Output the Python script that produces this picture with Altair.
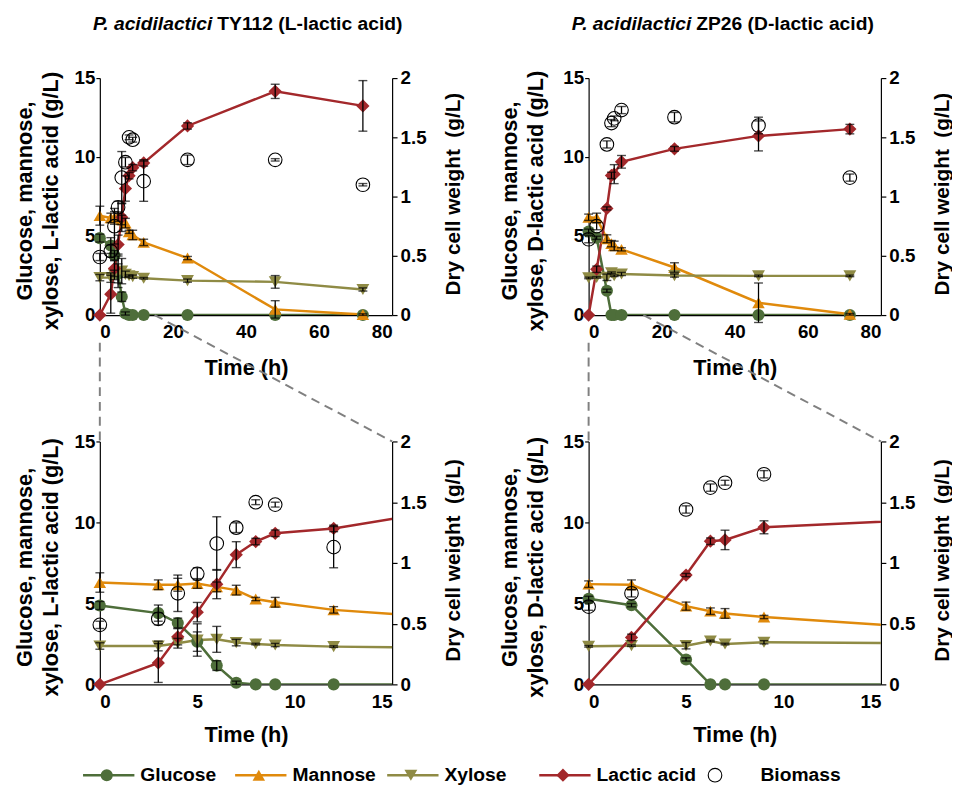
import altair as alt
import pandas as pd

FONT = "Liberation Sans"

# ---------------- data ----------------
series_names = ["Glucose", "Mannose", "Xylose", "Lactic acid"]
series_colors = ["#4E6E3A", "#E08A0C", "#8F8B45", "#A3282B"]
series_shapes = ["circle", "triangle-up", "triangle-down", "diamond"]
series_sizes = [150, 180, 180, 170]

# P. acidilactici TY112 (L-lactic acid)
ty_time = [0, 3, 4, 5, 6, 7, 8, 9, 12, 24, 48, 72]
ty_glucose = [4.87, 4.40, 3.79, 2.64, 1.16, 0.10, 0, 0, 0, 0, 0, 0]
ty_glucose_err = [0.25, 0.5, 0.3, 0.6, 0.3, 0.1, 0, 0, 0, 0, 0, 0]
ty_mannose = [6.29, 6.15, 6.15, 6.23, 6.02, 5.82, 5.27, 5.07, 4.60, 3.61, 0.36, 0.03]
ty_mannose_err = [0.6, 0.3, 0.4, 0.3, 0.3, 0.3, 0.1, 0.3, 0.2, 0.1, 0.55, 0.05]
ty_xylose = [2.37, 2.37, 2.54, 2.74, 2.78, 2.58, 2.49, 2.43, 2.33, 2.18, 2.10, 1.62]
ty_xylose_err = [0.2, 0.3, 0.3, 1.0, 0.8, 0.2, 0.05, 0.1, 0.05, 0.1, 0.4, 0.1]
ty_lactic = [0, 1.32, 2.94, 4.46, 6.19, 8.01, 8.82, 9.33, 9.63, 11.97, 14.16, 13.24]
ty_lactic_err = [0, 1.2, 0.5, 0.6, 0.9, 0.8, 0.2, 0.2, 0.2, 0.2, 0.45, 1.6]
ty_biomass = [0.49, 0.54, 0.75, 0.91, 1.16, 1.29, 1.50, 1.48, 1.13, 1.31, 1.31, 1.10]
ty_biomass_err = [0.03, 0.05, 0.15, 0.05, 0.22, 0.04, 0.02, 0.02, 0.17, 0.04, 0.01, 0.01]

# P. acidilactici ZP26 (D-lactic acid)
zp_time = [0, 2.2, 5, 6.25, 7, 9, 23.5, 46.5, 71.5]
zp_glucose = [5.29, 4.89, 1.54, 0, 0, 0, 0, 0, 0]
zp_glucose_err = [0.15, 0.1, 0.1, 0, 0, 0, 0, 0, 0]
zp_mannose = [6.19, 6.15, 4.83, 4.52, 4.38, 4.16, 3.01, 0.78, 0.05]
zp_mannose_err = [0.2, 0.3, 0.25, 0.2, 0.3, 0.1, 0.3, 1.25, 0.05]
zp_xylose = [2.35, 2.39, 2.39, 2.68, 2.49, 2.60, 2.50, 2.48, 2.48]
zp_xylose_err = [0.05, 0.05, 0.2, 0.05, 0.05, 0.1, 0.1, 0.05, 0.05]
zp_lactic = [0, 2.90, 6.75, 8.84, 8.92, 9.70, 10.52, 11.34, 11.77]
zp_lactic_err = [0, 0.2, 0.1, 0.2, 0.6, 0.4, 0.15, 0.95, 0.3]
zp_biomass = [0.64, 0.75, 1.44, 1.62, 1.66, 1.73, 1.67, 1.60, 1.16]
zp_biomass_err = [0.03, 0.03, 0.03, 0.03, 0.02, 0.03, 0.04, 0.07, 0.03]

legend_names = series_names + ["Biomass"]

# ---------------- layout constants ----------------
W = 296
H_TOP = 240
H_BOT = 246
HSPACE = 199
VSPACE = 128
LEGEND_Y = 92          # legend centre below the bottom panels' x axis
TOP_XMAX = 80
BOT_XMAX = 15
TITLE_FS = 19.5
BIO_SIZE = 190


def long_df(time, vals, errs):
    rows = []
    for name, v, e in zip(series_names, vals, errs):
        for t, vv, ee in zip(time, v, e):
            rows.append({"t": t, "series": name, "value": vv, "err": ee,
                         "lo": vv - ee, "hi": vv + ee})
    return pd.DataFrame(rows)


def bio_df(time, vals, errs):
    return pd.DataFrame({"t": time, "value": vals, "err": errs,
                         "lo": [v - e for v, e in zip(vals, errs)],
                         "hi": [v + e for v, e in zip(vals, errs)]})


ty_sub = long_df(ty_time, [ty_glucose, ty_mannose, ty_xylose, ty_lactic],
                 [ty_glucose_err, ty_mannose_err, ty_xylose_err, ty_lactic_err])
zp_sub = long_df(zp_time, [zp_glucose, zp_mannose, zp_xylose, zp_lactic],
                 [zp_glucose_err, zp_mannose_err, zp_xylose_err, zp_lactic_err])
ty_bio = bio_df(ty_time, ty_biomass, ty_biomass_err)
zp_bio = bio_df(zp_time, zp_biomass, zp_biomass_err)

color_scale = alt.Scale(domain=series_names, range=series_colors)
shape_scale = alt.Scale(domain=series_names, range=series_shapes)
size_scale = alt.Scale(domain=series_names, range=series_sizes)


def zoom_guides():
    # connectors from the top panel's 0-15 h window to the bottom panel frame,
    # expressed in the bottom panel's data units
    y_per_px = 15.0 / H_BOT
    x_top_15 = BOT_XMAX * BOT_XMAX / TOP_XMAX
    return pd.DataFrame({
        "x1": [0, x_top_15],
        "y1": [15 + (VSPACE - 28) * y_per_px, 15 + VSPACE * y_per_px],
        "x2": [0, BOT_XMAX],
        "y2": [15, 15],
    })


def make_legend():
    leg_df = pd.DataFrame({"name": legend_names})
    LX = alt.X("name:N", scale=alt.Scale(type="point", domain=legend_names,
                                         range=[7, 623], padding=0), axis=None)
    yv = alt.value(H_BOT + LEGEND_Y)
    leg_col = alt.Color("name:N", scale=color_scale, legend=None)
    not_bio = "datum.name != 'Biomass'"
    is_bio = "datum.name == 'Biomass'"
    leg_lines = alt.Chart(leg_df).transform_filter(not_bio).mark_tick(
        orient="horizontal", size=52, thickness=2.5, xOffset=2, opacity=1).encode(
        x=LX, y=yv, color=leg_col)
    leg_pts = alt.Chart(leg_df).transform_filter(not_bio).mark_point(
        filled=True, opacity=1).encode(
        x=LX, y=yv, color=leg_col,
        shape=alt.Shape("name:N", scale=shape_scale, legend=None),
        size=alt.Size("name:N", scale=size_scale, legend=None))
    leg_bio = alt.Chart(leg_df).transform_filter(is_bio).mark_point(
        filled=False, color="black", size=BIO_SIZE, strokeWidth=1.1, opacity=1).encode(
        x=LX, y=yv)
    leg_txt = alt.Chart(leg_df).transform_filter(not_bio).mark_text(
        font=FONT, fontSize=19.5, fontWeight="bold", align="left", baseline="middle",
        dx=34, color="black").encode(x=LX, y=yv, text="name:N")
    leg_txt_b = alt.Chart(leg_df).transform_filter(is_bio).mark_text(
        font=FONT, fontSize=19.5, fontWeight="bold", align="left", baseline="middle",
        dx=46, color="black").encode(x=LX, y=yv, text="name:N")
    return alt.layer(leg_lines, leg_pts, leg_bio, leg_txt, leg_txt_b)


def panel(sub, bio, x_max, x_ticks, h, left_title, lx, rx, xt_y,
          title_parts=None, junction=0, guides=False, legend=False):
    xs = alt.Scale(domain=[0, x_max], nice=False)
    ys = alt.Scale(domain=[0, 15], nice=False)
    rs = alt.Scale(domain=[0, 2], nice=False)
    x_axis = alt.Axis(values=x_ticks, title="Time (h)", ticks=False,
                      labelPadding=8, titleY=xt_y, titleBaseline="middle",
                      grid=False)
    ly_axis = alt.Axis(values=[0, 5, 10, 15], title=left_title, titleX=lx,
                       titleY=h / 2 + 4, titleAngle=270, titleAlign="center",
                       titleBaseline="middle", titleLineHeight=26,
                       tickSize=4, labelPadding=1, grid=False)
    ry_axis = alt.Axis(orient="right", values=[0, 0.5, 1, 1.5, 2], format="~g",
                       title="Dry cell weight\u00a0 (g/L)", titleX=rx,
                       titleY=h / 2 - 3, titleAngle=270, titleAlign="center",
                       titleBaseline="middle", titleFontSize=21,
                       tickSize=5, labelPadding=3, grid=False)

    def X(f):
        return alt.X(f, type="quantitative", scale=xs, axis=x_axis)

    def Y(f):
        return alt.Y(f, type="quantitative", scale=ys, axis=ly_axis)

    def RY(f):
        return alt.Y(f, type="quantitative", scale=rs, axis=ry_axis)

    col = alt.Color("series:N", scale=color_scale, legend=None)
    in_range = f"datum.t <= {x_max}"
    with_err = f"datum.t <= {x_max} && datum.err > 0"

    lines = alt.Chart(sub).mark_line(strokeWidth=2.5, clip=True).encode(
        x=X("t"), y=Y("value"), color=col)
    pts = alt.Chart(sub).transform_filter(in_range).mark_point(
        filled=True, opacity=1, strokeWidth=0.8).encode(
        x=X("t"), y=Y("value"), color=col,
        shape=alt.Shape("series:N", scale=shape_scale, legend=None),
        size=alt.Size("series:N", scale=size_scale, legend=None))
    eb = alt.Chart(sub).transform_filter(with_err)
    e_rule = eb.mark_rule(color="black", strokeWidth=1.3).encode(
        x=X("t"), y=Y("lo"), y2="hi:Q")
    e_lo = eb.mark_tick(color="black", orient="horizontal", size=9,
                        thickness=1.4).encode(x=X("t"), y=Y("lo"))
    e_hi = eb.mark_tick(color="black", orient="horizontal", size=9,
                        thickness=1.4).encode(x=X("t"), y=Y("hi"))
    left_layers = [lines, pts, e_rule, e_lo, e_hi]

    if title_parts is not None:
        it, rest = title_parts
        t1 = alt.Chart(pd.DataFrame({"s": [it]})).mark_text(
            font=FONT, fontSize=TITLE_FS, fontWeight="bold", fontStyle="italic",
            align="right", baseline="middle", color="black").encode(
            text="s:N", x=alt.value(junction), y=alt.value(-55))
        t2 = alt.Chart(pd.DataFrame({"s": [rest]})).mark_text(
            font=FONT, fontSize=TITLE_FS, fontWeight="bold",
            align="left", baseline="middle", color="black").encode(
            text="s:N", x=alt.value(junction + 5), y=alt.value(-55))
        left_layers += [t1, t2]

    if guides:
        g = alt.Chart(zoom_guides()).mark_rule(
            color="#808080", strokeWidth=2, strokeDash=[9, 6]).encode(
            x=X("x1"), y=Y("y1"), x2="x2:Q", y2="y2:Q")
        left_layers.append(g)

    bb = alt.Chart(bio).transform_filter(in_range)
    b_pts = bb.mark_point(filled=False, color="black", size=BIO_SIZE,
                          strokeWidth=1.1, opacity=1).encode(x=X("t"), y=RY("value"))
    bbe = alt.Chart(bio).transform_filter(with_err)
    b_rule = bbe.mark_rule(color="black", strokeWidth=1.3).encode(
        x=X("t"), y=RY("lo"), y2="hi:Q")
    b_lo = bbe.mark_tick(color="black", orient="horizontal", size=9,
                         thickness=1.4).encode(x=X("t"), y=RY("lo"))
    b_hi = bbe.mark_tick(color="black", orient="horizontal", size=9,
                         thickness=1.4).encode(x=X("t"), y=RY("hi"))

    left = alt.layer(*left_layers)
    right = alt.layer(b_pts, b_rule, b_lo, b_hi)
    core = alt.layer(left, right).resolve_scale(y="independent")
    if legend:
        core = alt.layer(core, make_legend()).resolve_scale(
            x="independent", y="independent")
    return core.properties(width=W, height=h)


L_TITLE = ["Glucose, mannose,", "xylose, L-lactic acid (g/L)"]
D_TITLE = ["Glucose, mannose,", "xylose, D-lactic acid (g/L)"]

tl = panel(ty_sub, ty_bio, TOP_XMAX, [0, 20, 40, 60, 80], H_TOP, L_TITLE, -76, 62, 53,
           title_parts=("P. acidilactici", "TY112 (L-lactic acid)"), junction=114)
tr = panel(zp_sub, zp_bio, TOP_XMAX, [0, 20, 40, 60, 80], H_TOP, D_TITLE, -80, 62, 53,
           title_parts=("P. acidilactici", "ZP26 (D-lactic acid)"), junction=104)
bl = panel(ty_sub, ty_bio, BOT_XMAX, [0, 5, 10, 15], H_BOT, L_TITLE, -76, 62, 51,
           guides=True, legend=True)
br = panel(zp_sub, zp_bio, BOT_XMAX, [0, 5, 10, 15], H_BOT, D_TITLE, -80, 62, 51,
           guides=True)

chart = alt.concat(
    tl, tr, bl, br, columns=2,
    spacing={"row": VSPACE, "column": HSPACE}, bounds="flush"
).properties(
    padding={"left": 5, "top": 1, "right": 0, "bottom": 0}
).configure_view(stroke=None).configure_axis(
    labelFont=FONT, titleFont=FONT, labelFontSize=19, titleFontSize=22,
    labelFontWeight="bold", titleFontWeight="bold", labelColor="black",
    titleColor="black", domainColor="black", tickColor="black",
    domainWidth=1.2, tickWidth=1.2
)

chart.save("out.html", embed_options={"renderer": "svg", "actions": False})
